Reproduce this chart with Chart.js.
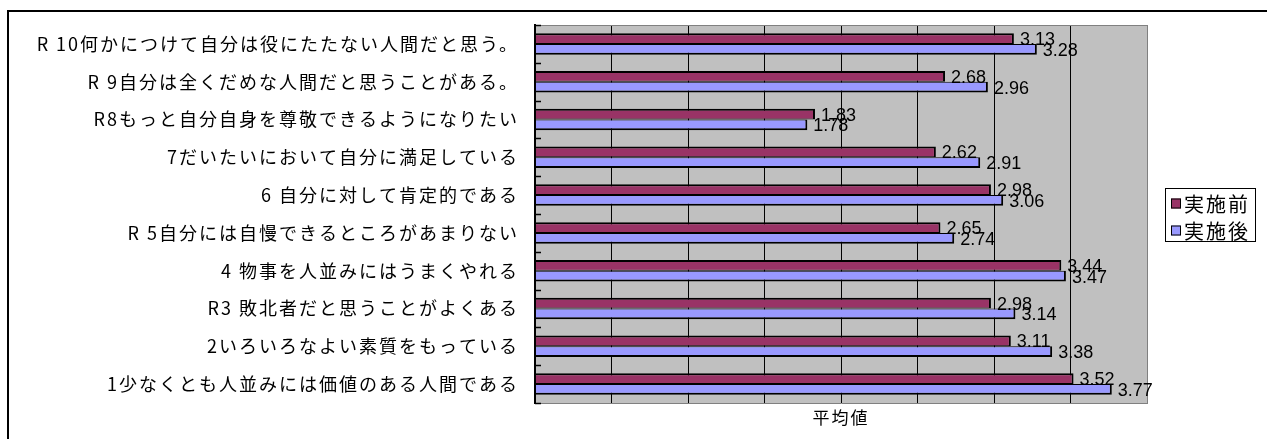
<!DOCTYPE html>
<html lang="ja">
<head>
<meta charset="utf-8">
<title>実施前・実施後 平均値</title>
<script src="https://cdn.jsdelivr.net/npm/chart.js@4.4.1/dist/chart.umd.min.js"></script>
<style>
  html, body { margin: 0; padding: 0; background: #fff; }
  #wrap { width: 1267px; height: 439px; position: relative; }
</style>
</head>
<body>
<div id="wrap"><canvas id="scoreChart"></canvas></div>
<script>
// items, top to bottom as in the original sheet
const items = [
  'R 10何かにつけて自分は役にたたない人間だと思う。',
  'R 9自分は全くだめな人間だと思うことがある。',
  'R8もっと自分自身を尊敬できるようになりたい',
  '7だいたいにおいて自分に満足している',
  '6 自分に対して肯定的である',
  'R 5自分には自慢できるところがあまりない',
  '4 物事を人並みにはうまくやれる',
  'R3 敗北者だと思うことがよくある',
  '2いろいろなよい素質をもっている',
  '1少なくとも人並みには価値のある人間である'
];
const beforeValues = [3.13, 2.68, 1.83, 2.62, 2.98, 2.65, 3.44, 2.98, 3.11, 3.52];
const afterValues = [3.28, 2.96, 1.78, 2.91, 3.06, 2.74, 3.47, 3.14, 3.38, 3.77];
const seriesNames = ['実施前', '実施後'];
const axisMin = 0;
const axisMax = 4;
const axisStep = 0.5;
const axisTitle = '平均値';

const JP_FONT = '"Noto Sans CJK JP", "Noto Sans", sans-serif';
const NUM_FONT = '"Liberation Sans", Arial, sans-serif';

const sheetLook = {
  id: 'sheetLook',
  beforeDraw(chart) {
    const { ctx, chartArea: a } = chart;
    ctx.save();
    ctx.fillStyle = '#c0c0c0';
    ctx.fillRect(a.left, a.top, a.right - a.left, a.bottom - a.top);
    ctx.restore();
    // the axis text in the original is a little spread out
    ctx.letterSpacing = '2px';
  },
  beforeDatasetsDraw(chart) {
    chart.ctx.letterSpacing = '0px';
  },
  afterDatasetsDraw(chart) {
    const ctx = chart.ctx;
    ctx.save();
    ctx.fillStyle = '#000';
    ctx.font = '18px ' + NUM_FONT;
    ctx.textAlign = 'left';
    ctx.textBaseline = 'middle';
    chart.data.datasets.forEach((ds, i) => {
      chart.getDatasetMeta(i).data.forEach((bar, j) => {
        ctx.fillText(ds.data[j].toFixed(2), bar.x + 6, bar.y + 1.5);
      });
    });
    ctx.restore();
  },
  afterDraw(chart) {
    const { ctx, chartArea: a } = chart;
    const y = chart.scales.y;
    ctx.save();

    // plot frame top edge
    ctx.fillStyle = '#808080';
    ctx.fillRect(a.left, a.top, a.right - a.left, 1);

    // small category ticks inside the plot
    const half = (y.getPixelForValue(1) - y.getPixelForValue(0)) / 2;
    ctx.strokeStyle = '#000';
    ctx.lineWidth = 1.5;
    for (let i = 0; i <= items.length; i++) {
      const py = Math.round(y.getPixelForValue(i) - half) + 0.5;
      ctx.beginPath();
      ctx.moveTo(a.left, py);
      ctx.lineTo(a.left + 6, py);
      ctx.stroke();
    }

    // outer sheet frame (top and left only)
    ctx.fillStyle = '#000';
    ctx.fillRect(7, 10, chart.width - 7, 2);
    ctx.fillRect(7, 10, 2, chart.height - 10);

    // legend with a box round it
    const bx = a.right + 18, bw = 90, bh = 53;
    const by = Math.round((a.top + a.bottom) / 2 - bh / 2);
    ctx.fillStyle = '#fff';
    ctx.fillRect(bx, by, bw, bh);
    ctx.strokeStyle = '#000';
    ctx.lineWidth = 1;
    ctx.strokeRect(bx + 0.5, by + 0.5, bw, bh);
    ctx.font = '20px ' + JP_FONT;
    ctx.textBaseline = 'middle';
    ctx.letterSpacing = '2px';
    chart.data.datasets.forEach((ds, i) => {
      const cy = by + 15 + i * 27;
      ctx.fillStyle = ds.backgroundColor;
      ctx.fillRect(bx + 6, cy - 4.5, 10, 10);
      ctx.strokeRect(bx + 6.5, cy - 4, 9, 9);
      ctx.fillStyle = '#000';
      ctx.fillText(ds.label, bx + 19, cy + 1);
    });
    ctx.restore();
  }
};

const canvas = document.getElementById('scoreChart');
new Chart(canvas.getContext('2d'), {
  type: 'bar',
  data: {
    labels: items,
    datasets: [
      {
        label: seriesNames[0],
        data: beforeValues,
        backgroundColor: '#993366',
        borderColor: '#000',
        borderWidth: { top: 2, right: 2, bottom: 1, left: 0 },
        borderSkipped: false,
        categoryPercentage: 0.57,
        barPercentage: 1
      },
      {
        label: seriesNames[1],
        data: afterValues,
        backgroundColor: '#9999ff',
        borderColor: '#000',
        borderWidth: { top: 1, right: 2, bottom: 2, left: 0 },
        borderSkipped: false,
        categoryPercentage: 0.57,
        barPercentage: 1
      }
    ]
  },
  options: {
    indexAxis: 'y',
    responsive: true,
    maintainAspectRatio: false,
    animation: false,
    layout: { padding: { left: 0, top: 25, right: 120, bottom: 0 } },
    plugins: {
      legend: { display: false },
      tooltip: { enabled: false }
    },
    scales: {
      x: {
        min: axisMin,
        max: axisMax,
        ticks: { display: false, stepSize: axisStep },
        grid: {
          color: (c) => (c.tick && c.tick.value === axisMax ? '#808080' : '#000'),
          lineWidth: 1,
          drawTicks: false
        },
        border: { color: '#808080', width: 1 },
        title: {
          display: true,
          text: axisTitle,
          color: '#000',
          font: { family: JP_FONT, size: 17 },
          padding: { top: 0, bottom: 11 }
        },
        afterFit(scale) { scale.height = 36; }
      },
      y: {
        ticks: {
          color: '#000',
          font: { family: JP_FONT, size: 18 },
          padding: 8,
          autoSkip: false
        },
        grid: { display: false },
        border: { color: '#000', width: 2, z: 1 },
        afterFit(scale) { scale.width = 535; }
      }
    }
  },
  plugins: [sheetLook]
});
</script>
</body>
</html>
